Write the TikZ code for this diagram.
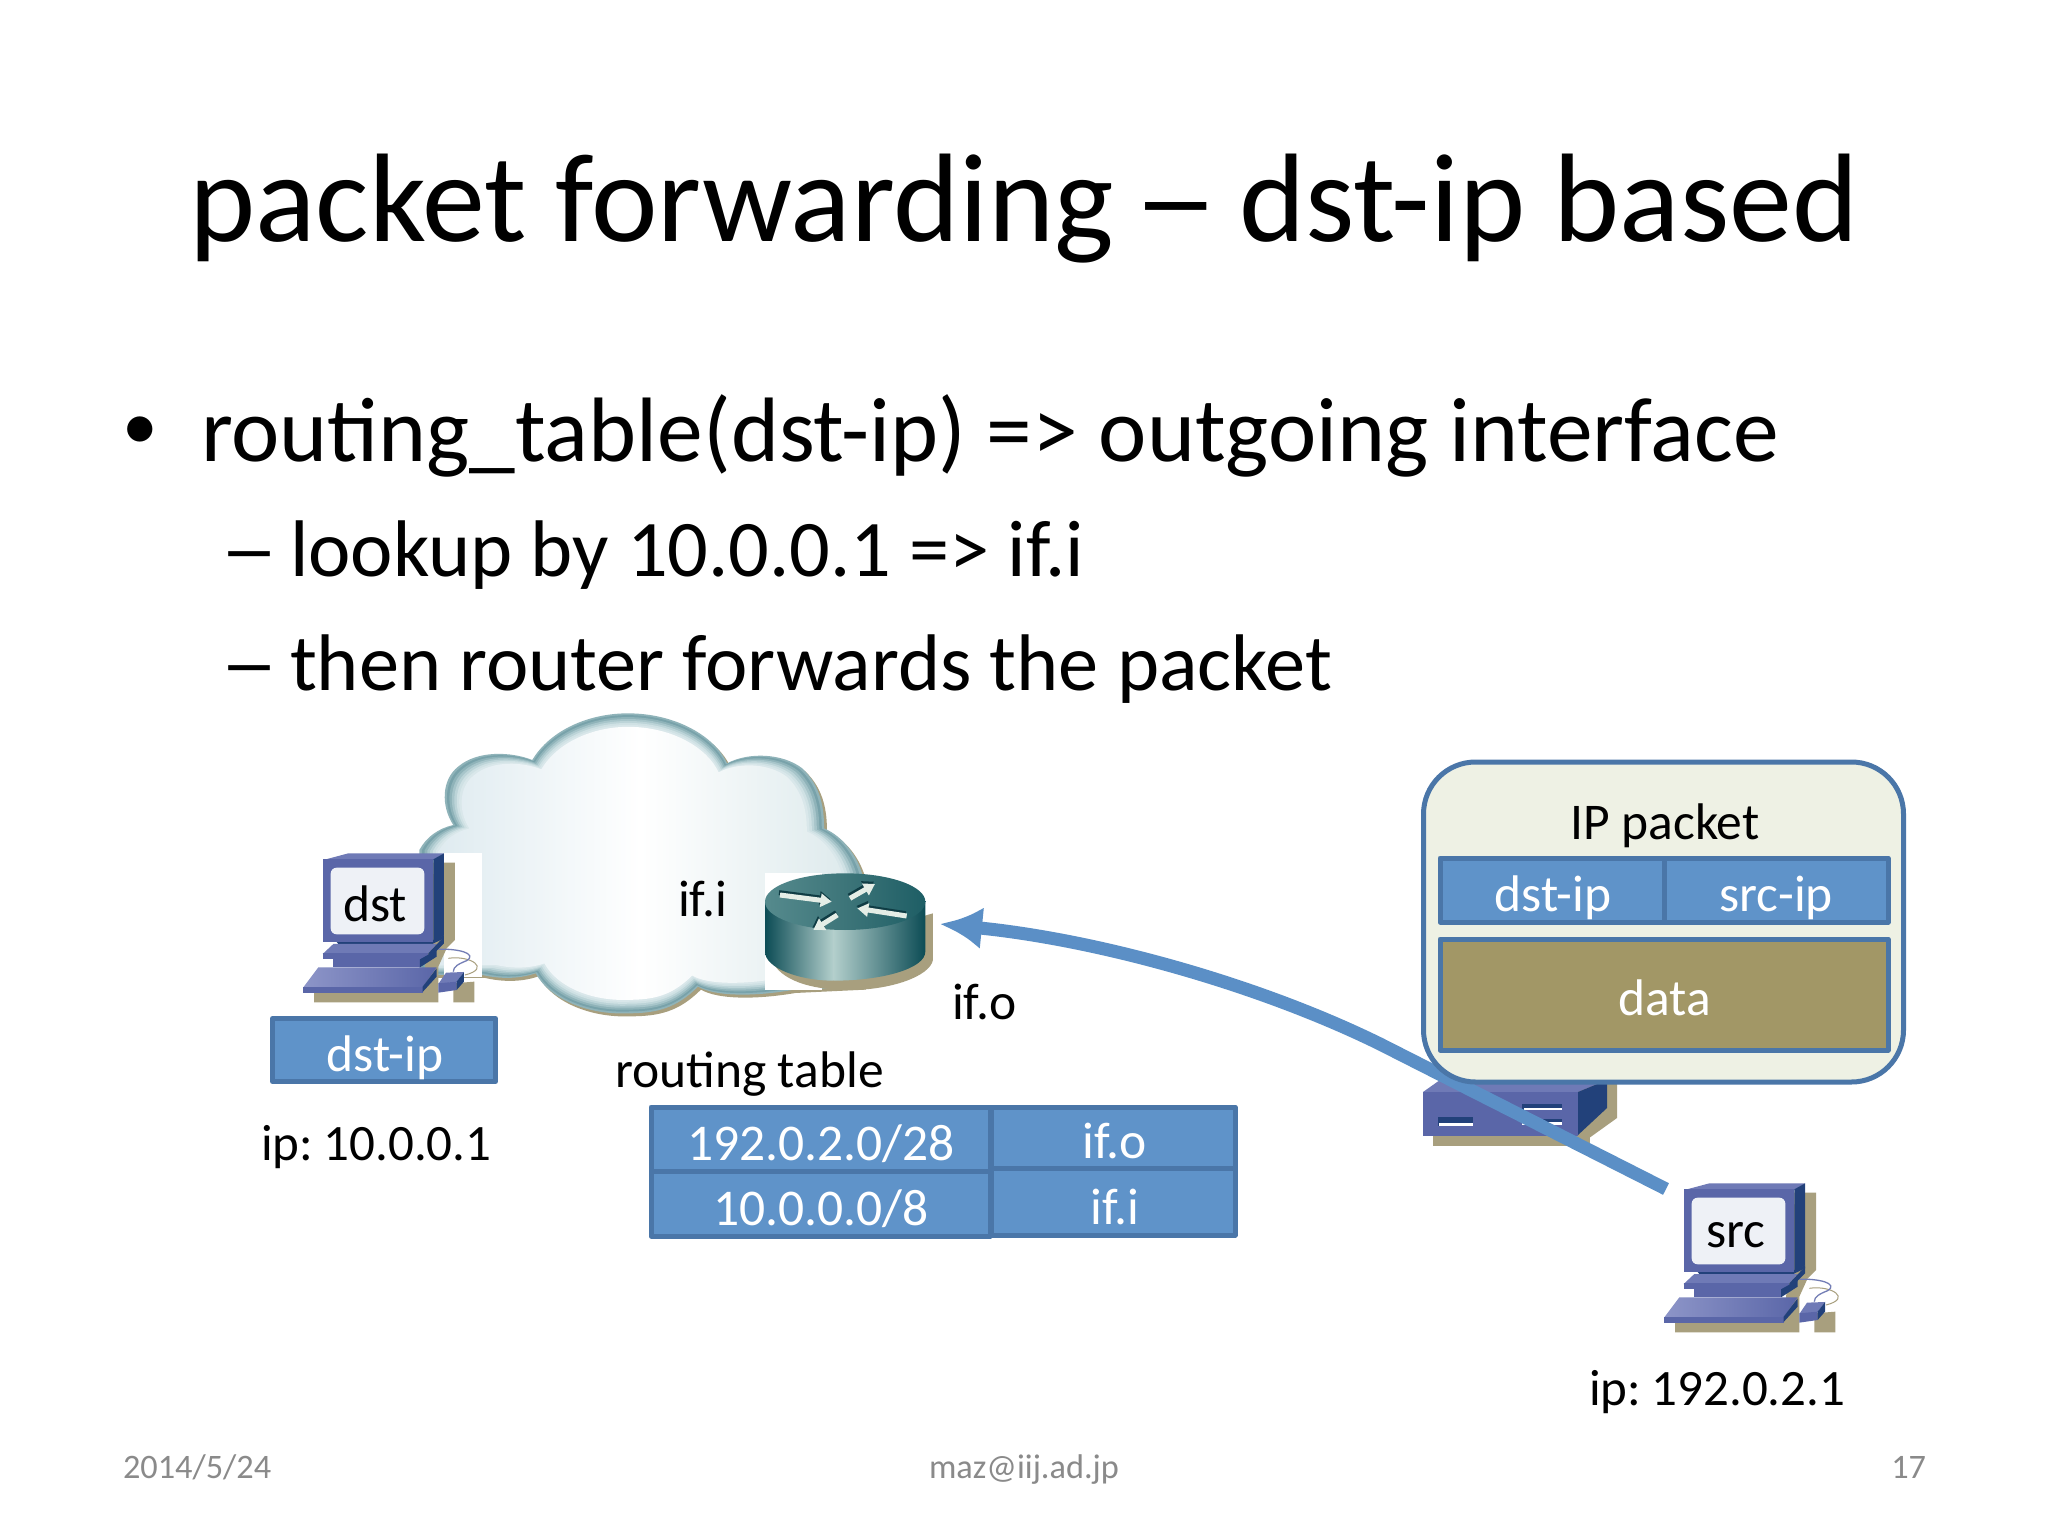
\documentclass[tikz,border=0pt]{standalone}
\usepackage{fontspec}
\usepackage{graphicx}
\setmainfont{Carlito}
\usetikzlibrary{arrows.meta}
\definecolor{boxblue}{HTML}{5F93C9}
\definecolor{boxedge}{HTML}{4A76A8}
\definecolor{packetbg}{HTML}{EEF1E4}
\definecolor{dataol}{HTML}{A29766}
\definecolor{tanshadow}{HTML}{A89F7E}
\definecolor{pcface}{HTML}{5A66A8}
\definecolor{pctop}{HTML}{6F7AB6}
\definecolor{pclight}{HTML}{8D95C8}
\definecolor{pcdark}{HTML}{22417A}
\definecolor{pcscreen}{HTML}{EEF1F6}
\definecolor{footgrey}{HTML}{8A8A8A}
\definecolor{arrowblue}{HTML}{5B8FC6}
\definecolor{CloudL}{HTML}{DFEBF0}
\definecolor{CloudR}{HTML}{DFEBED}
\definecolor{RouterDark}{HTML}{0C4C55}
\definecolor{RouterLight}{HTML}{B3CFCC}
\definecolor{RouterTopA}{HTML}{558A8D}
\definecolor{RouterTopB}{HTML}{1E5E65}
\definecolor{RouterTopM}{HTML}{3D7579}
\definecolor{RouterArrow}{HTML}{E4EDE6}
\definecolor{RouterArrowEdge}{HTML}{0F3C44}
\newcommand{\fs}[1]{\fontsize{#1}{#1}\selectfont}
\tikzset{
  lbl/.style={inner sep=0pt,outer sep=0pt,anchor=base,font=\fs{51.5}},
  lblw/.style={lbl,anchor=base west},
  wlbl/.style={lbl,text=white},
  cell/.style={draw=boxedge,fill=boxblue,line width=5pt,line join=round},
  bodytext/.style={inner sep=0pt,outer sep=0pt,anchor=base west,font=\fs{91.5}},
  subtext/.style={inner sep=0pt,outer sep=0pt,anchor=base west,font=\fs{80.3}},
  foot/.style={inner sep=0pt,outer sep=0pt,anchor=base,font=\fs{34.3},text=footgrey},
  zoomcs/.style={x=.4847pt,y=-.3333pt},
  thirdcs/.style={x=.3333pt,y=-.3333pt},
}
\newcommand{\computer}[2]{%
\begin{scope}[shift={(290+#1,840+#2)},thirdcs]
  % shadows
  \fill[tanshadow] (430,68) -- (495,68) -- (495,300) -- (470,325) -- (445,380) -- (445,487) -- (72,487) -- (72,450) -- (400,440) -- (430,100) -- cycle;
  \fill[tanshadow] (490,487) -- (490,430) -- (553,425) -- (553,487) -- cycle;
  % cables
  \draw[tanshadow,line width=1pt] (475,355) .. controls (540,345) and (605,385) .. (525,405);
  \draw[pcface!85,line width=1.3pt] (445,328) .. controls (500,325) and (565,340) .. (530,362) .. controls (505,372) and (490,380) .. (490,395);
  % stand
  \fill[pcdark] (135,300) -- (430,300) -- (462,285) -- (462,295) -- (415,318) -- (150,318) -- cycle;
  \fill[pctop] (98,342) -- (130,312) -- (440,312) -- (415,340) -- cycle;
  \fill[pcface] (98,340) rectangle (415,358);
  \fill[pcdark] (415,340) -- (462,290) -- (462,310) -- (415,358) -- cycle;
  \fill[pcface] (130,358) rectangle (390,382);
  \fill[pcdark] (390,358) -- (440,330) -- (440,350) -- (390,382) -- cycle;
  % keyboard
  \shade[left color=pclight,right color=pcface] (40,442) -- (85,382) -- (440,382) -- (398,442) -- cycle;
  \fill[pcface] (40,440) rectangle (398,458);
  \fill[pcdark] (398,440) -- (440,385) -- (440,410) -- (398,456) -- cycle;
  % mouse
  \fill[pctop] (445,432) -- (468,398) -- (522,396) -- (500,426) -- cycle;
  \fill[pcface] (445,430) -- (500,425) -- (500,450) -- (445,458) -- cycle;
  \fill[pcdark] (500,425) -- (522,396) -- (522,425) -- (500,450) -- cycle;
  % monitor
  \fill[pctop] (100,60) -- (175,40) -- (462,40) -- (430,60) -- cycle;
  \fill[pcdark] (430,58) -- (462,40) -- (462,285) -- (430,305) -- cycle;
  \fill[pcface] (100,58) rectangle (430,305);
  \fill[pcscreen,rounded corners=6pt] (122,83) rectangle (403,283);
\end{scope}}
\def\cloudpath{(370,450) .. controls (385,410) and (410,385) .. (440,375) .. controls (415,320) and (415,240) .. (450,200) .. controls (490,150) and (560,155) .. (603,180) .. controls (640,90) and (720,40) .. (800,40) .. controls (900,40) and (980,110) .. (1005,190) .. controls (1050,155) and (1120,160) .. (1160,205) .. controls (1200,260) and (1205,330) .. (1205,385) .. controls (1245,410) and (1275,470) .. (1285,530) -- (1285,860) -- (1140,870) .. controls (1060,890) and (980,890) .. (945,860) .. controls (900,925) and (860,940) .. (800,940) .. controls (720,945) and (640,900) .. (610,820) .. controls (570,840) and (530,835) .. (500,825) -- (370,825) -- cycle}
\newcommand{\rarrow}[2]{%
  \draw[RouterArrowEdge,line width=5pt,-{Triangle[length=11pt,width=13pt]}] ([shift={(-3,-7)}]#1) -- ([shift={(-3,-7)}]#2);
  \draw[RouterArrow,line width=5pt,-{Triangle[length=11pt,width=13pt]}] (#1) -- (#2);}
\begin{document}
\begin{tikzpicture}[x=1pt,y=-1pt]
\useasboundingbox (0,0) rectangle (2048,1536);
\fill[white] (0,0) rectangle (2048,1536);

% cloud
\begin{scope}[shift={(240,700)},zoomcs]
  \path[fill=tanshadow,shift={(6,9)}] \cloudpath;
  \foreach \s/\c in {1/8FB3B9,.988/78A2AA,.975/8FB3B9,.962/A7C5CA,.949/BCD4D8,.936/CFE1E4,.923/D9E7EA}{
    \definecolor{cloudlayer}{HTML}{\c}
    \path[fill=cloudlayer,shift={(810,490)},scale=\s,shift={(-810,-490)}] \cloudpath;
  }
  \path[left color=CloudL,right color=CloudR,middle color=white,shift={(810,490)},scale=.91,shift={(-810,-490)}] \cloudpath;
  \fill[white] (420,460) rectangle (500,832);
  \fill[white] (1083,520) rectangle (1200,870);
\end{scope}

% router
\begin{scope}[shift={(750,860)},thirdcs]
  \fill[tanshadow] (65,300) -- (549,160) -- (549,300) .. controls (539,350) and (420,390) .. (300,390) .. controls (180,390) and (90,360) .. (65,300) -- cycle;
  \shade[left color=RouterDark,right color=RouterLight]
    (45,125) -- (45,275) .. controls (45,325) and (150,362) .. (250,362) -- (250,125) -- cycle;
  \shade[left color=RouterLight,right color=RouterDark]
    (250,125) -- (250,362) .. controls (400,362) and (526,325) .. (526,275) -- (526,125) -- cycle;
  \shade[left color=RouterTopA,right color=RouterTopB,middle color=RouterTopM]
    (45,125) .. controls (45,78) and (150,40) .. (285,40) .. controls (418,40) and (526,78) .. (526,125) .. controls (526,172) and (418,210) .. (285,210) .. controls (150,210) and (45,172) .. (45,125) -- cycle;
  \rarrow{90,105}{245,125}
  \rarrow{300,115}{375,72}
  \rarrow{470,168}{322,145}
  \rarrow{262,165}{190,210}
\end{scope}

% dst computer
\computer{0}{0}
\node[lbl] (dstname) at (375,921) {dst};
\node[lblw] (ifi) at (678,916) {if.i};
\node[lblw] (ifo) at (952,1019) {if.o};

% dst-ip box
\node[cell,wlbl,anchor=center,minimum width=223pt,minimum height=63pt] (dstbox) at (384,1050) {};
\node[wlbl] (dstiplbl) at (385,1071) {dst-ip};
\node[lblw,font=\fs{51}] (dstaddr) at (261,1160) {ip:\kern-1pt\ 10.0.0.1};

% routing table
\node[lblw] (rtlabel) at (615,1087) {routing table};
\path[cell] (651,1107) rectangle (990,1171);
\path[cell] (651,1171) rectangle (990,1236);
\path[cell] (991,1107) rectangle (1235,1168);
\path[cell] (991,1168) rectangle (1235,1235);
\node[wlbl] (rta) at (821,1160) {192.0.2.0/28};
\node[wlbl] (rtb) at (821,1225) {10.0.0.0/8};
\node[wlbl] (rtc) at (1115,1158) {if.o};
\node[wlbl] (rtd) at (1115,1224) {if.i};

% device under the packet box
\fill[tanshadow] (1433,1130) rectangle (1590,1146);
\fill[tanshadow] (1578,1146) -- (1617,1118) -- (1617,1080) -- (1578,1080) -- cycle;
\fill[pctop] (1423,1092) -- (1440,1080) -- (1607,1080) -- (1578,1092) -- cycle;
\fill[pcdark] (1578,1092) -- (1607,1080) -- (1607,1108) -- (1578,1135) -- cycle;
\fill[pcface] (1423,1092) rectangle (1578,1136);
\fill[pcdark] (1438,1117) rectangle (1473,1126);
\fill[white] (1439,1123) rectangle (1473,1125.5);
\fill[pcdark] (1522,1104) rectangle (1562,1110);
\fill[white] (1524,1107.5) rectangle (1562,1110);
\fill[pcdark] (1522,1119) rectangle (1562,1125);
\fill[white] (1522,1122) rectangle (1562,1125);

% arrow
\coordinate (arrowstart) at (1666,1189);
\coordinate (arrowtip) at (940,924);
\draw[arrowblue,line width=13pt,-{Latex[length=42pt,width=42pt]}] (arrowstart) -- (1380,1044) .. controls (1260,985) and (1100,940) .. (arrowtip);

% packet
\node[draw=boxedge,fill=packetbg,line width=5pt,rounded corners=52pt,minimum width=480pt,minimum height=320pt,inner sep=0pt] (packet) at (1663.5,922) {};
\path[cell] (1440,858) rectangle (1664,922);
\path[cell] (1664,858) rectangle (1888,922);
\path[cell,fill=dataol] (1440,939) rectangle (1888,1050);
\node[lbl] (pktlbl) at (1665,839) {IP packet};
\node[wlbl] (pktdst) at (1553,911) {dst-ip};
\node[wlbl] (pktsrc) at (1776,911) {src-ip};
\node[wlbl] (pktdata) at (1665,1015) {data};

% src computer
\computer{1361}{330}
\node[lbl] (srcname) at (1736,1247) {src};
\node[lblw,font=\fs{51}] (srcaddr) at (1589,1405) {ip:\kern-1pt\ 192.0.2.1};

% text
\node[inner sep=0pt,outer sep=0pt,anchor=base] (title) at (1024,241) {\fs{126}packet forwarding\kern-8.5pt{} \scalebox{1.36}[1]{–}\kern-8.5pt{} dst-ip based};
\node[bodytext,anchor=base] (bullet) at (140,449) {\scalebox{.78}{•}};
\node[bodytext] (line1) at (201,461) {routing\_table(dst-ip) => outgoing interface};
\node[subtext] (dash1) at (220,576) {\scalebox{1.45}[1]{–}};
\node[subtext] (line2) at (290,576) {lookup by 10.0.0.1 => if.i};
\node[subtext] (dash2) at (220,690) {\scalebox{1.45}[1]{–}};
\node[subtext] (line3) at (290,690) {then router forwards the packet};
\node[foot,anchor=base west] (date) at (123,1478) {2014/5/24};
\node[foot] (mail) at (1024,1478) {maz@iij.ad.jp};
\node[foot,anchor=base east] (page) at (1926,1478) {17};
\end{tikzpicture}
\end{document}
